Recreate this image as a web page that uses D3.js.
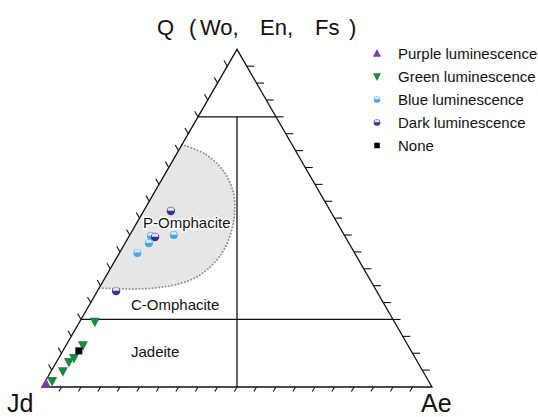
<!DOCTYPE html>
<html><head><meta charset="utf-8">
<script src="https://cdn.jsdelivr.net/npm/d3@7/dist/d3.min.js"></script>
<style>body{margin:0;background:#fff;} svg{display:block;}</style>
</head><body>
<svg id="c" width="538" height="417"></svg>
<script>
// ---- data (ternary: Q %, Ae %; Jd = 100 - Q - Ae) ----
const purpleQ = [0.9];
const purpleAe = [0.6];
const greenQ = [19.3, 12.4, 8.6, 7.4, 4.7, 1.8];
const greenAe = [3.9, 4.3, 3.9, 3.2, 3.0, 1.7];
const blueQ = [45.0, 44.7, 42.6, 39.7];
const blueAe = [11.3, 5.6, 6.1, 4.6];
const darkQ = [52.1, 44.4, 28.4];
const darkAe = [7.0, 6.8, 4.8];
const noneQ = [10.7];
const noneAe = [4.1];
// P-Omphacite field outline
const fieldQ = [71.8, 68.9, 64.0, 58.0, 52.0, 46.5, 41.0, 36.8, 33.0, 30.6, 29.4, 29.0, 29.3];
const fieldAe = [0, 7.5, 14.5, 20.0, 23.4, 25.4, 26.3, 25.8, 23.8, 20.0, 14.8, 8.0, 0];
const fieldLines = [20, 80]; // Q boundaries
const ticks = d3.range(5, 100, 5);
const titleParts = ["Q", "(", "Wo,", "En,", "Fs", ")"];
const legendLabels = ["Purple luminescence", "Green luminescence", "Blue luminescence", "Dark luminescence", "None"];
const fieldLabels = ["P-Omphacite", "C-Omphacite", "Jadeite"];

const svg = d3.select("#c");
const x = d3.scaleLinear().domain([0, 100]).range([42, 432]);
const y = d3.scaleLinear().domain([0, 100]).range([387, 49.3]);
const px = (Q, Ae) => x(Ae + Q / 2);
const py = (Q) => y(Q);

// gray field
const fieldPts = fieldQ.map((q, i) => [px(q, fieldAe[i]), py(q)]);
const curve = d3.line().curve(d3.curveCatmullRom.alpha(0.5));
svg.append("path")
  .attr("d", curve(fieldPts) + "Z")
  .attr("fill", "#e6e6e6").attr("stroke", "none");
svg.append("path")
  .attr("d", curve(fieldPts))
  .attr("fill", "none").attr("stroke", "#8f8f8f").attr("stroke-width", 1.9)
  .attr("stroke-dasharray", "0.1 3.2").attr("stroke-linecap", "round");

const lineW = 1.3;
// triangle
const tri = [[px(0, 0), py(0)], [px(100, 0), py(100)], [px(0, 100), py(0)]];
svg.append("path").attr("d", d3.line()(tri) + "Z")
  .attr("fill", "none").attr("stroke", "#111").attr("stroke-width", lineW).attr("stroke-linejoin", "miter");

// field boundaries
fieldLines.forEach(q => {
  svg.append("line")
    .attr("x1", px(q, 0)).attr("y1", py(q))
    .attr("x2", px(q, 100 - q)).attr("y2", py(q))
    .attr("stroke", "#111").attr("stroke-width", lineW);
});
svg.append("line")
  .attr("x1", x(50)).attr("y1", py(80)).attr("x2", x(50)).attr("y2", py(0))
  .attr("stroke", "#111").attr("stroke-width", lineW);

// ticks
const tl = 6.5;
const tg = svg.append("g").attr("stroke", "#111").attr("stroke-width", 1.1);
ticks.forEach(t => {
  let bx = px(0, t), by = py(0);
  tg.append("line").attr("x1", bx).attr("y1", by).attr("x2", bx - tl * 0.5 * 0.8).attr("y2", by + tl * 0.866 * 0.8);
  let lx = px(t, 0), ly = py(t);
  tg.append("line").attr("x1", lx).attr("y1", ly).attr("x2", lx - tl * 0.5).attr("y2", ly - tl * 0.866);
  let rx = px(t, 100 - t), ry = py(t);
  tg.append("line").attr("x1", rx).attr("y1", ry).attr("x2", rx + tl + 1).attr("y2", ry);
});

// marker shapes
function upTri(g, cx, cy, s, color) {
  g.append("path").attr("d", `M${cx},${cy - s * 0.55}L${cx + s / 2},${cy + s * 0.4}L${cx - s / 2},${cy + s * 0.4}Z`).attr("fill", color);
}
function downTri(g, cx, cy, s, color) {
  g.append("path").attr("d", `M${cx - s / 2},${cy - s * 0.4}L${cx + s / 2},${cy - s * 0.4}L${cx},${cy + s * 0.55}Z`).attr("fill", color);
}
function halfCirc(g, cx, cy, r, color, top) {
  g.append("circle").attr("cx", cx).attr("cy", cy).attr("r", r).attr("fill", color);
  g.append("path").attr("d", `M${cx - r * 0.8},${cy - r * 0.1}A${r * 0.8},${r * 0.8} 0 0 1 ${cx + r * 0.8},${cy - r * 0.1}Z`).attr("fill", top);
}
function square(g, cx, cy, s, color) {
  g.append("rect").attr("x", cx - s / 2).attr("y", cy - s / 2).attr("width", s).attr("height", s).attr("fill", color);
}
const cPurple = "#7b3f9e", cGreen = "#1c8a3c", cBlue = "#4aa6e2", cDark = "#35338c";
const mg = svg.append("g");
purpleQ.forEach((q, i) => upTri(mg, px(q, purpleAe[i]), py(q), 10, cPurple));
greenQ.forEach((q, i) => downTri(mg, px(q, greenAe[i]), py(q), 10, cGreen));
noneQ.forEach((q, i) => square(mg, px(q, noneAe[i]), py(q), 7, "#000"));
blueQ.forEach((q, i) => halfCirc(mg, px(q, blueAe[i]), py(q), 4, cBlue, "#d8ecfa"));
darkQ.forEach((q, i) => halfCirc(mg, px(q, darkAe[i]), py(q), 4.2, cDark, "#e4e0f0"));

// field labels
const lab = svg.append("g").attr("font-family", "Liberation Sans, Arial, sans-serif").attr("font-size", 15).attr("fill", "#111");
const labPos = [[143, 228], [131, 310], [131, 357]];
fieldLabels.forEach((t, i) => {
  lab.append("text").attr("x", labPos[i][0]).attr("y", labPos[i][1]).text(t)
    .attr("stroke", i === 0 ? "#fff" : "none").attr("stroke-width", 3).attr("paint-order", "stroke");
});

// title (full-width style spacing)
const titleX = [157, 189, 200, 260, 315, 349];
const tt = svg.append("text").attr("y", 35).attr("font-family", "Liberation Sans, Arial, sans-serif").attr("font-size", 22).attr("fill", "#111");
titleParts.forEach((p, i) => tt.append("tspan").attr("x", titleX[i]).text(p));

// vertex labels
svg.append("text").attr("x", 7).attr("y", 412).attr("font-family", "Liberation Sans, Arial, sans-serif").attr("font-size", 25).attr("fill", "#111").text("Jd");
svg.append("text").attr("x", 421).attr("y", 412).attr("font-family", "Liberation Sans, Arial, sans-serif").attr("font-size", 25).attr("fill", "#111").text("Ae");

// legend
const lg = svg.append("g");
const ly0 = 53.5, ldy = 23;
const legendDraw = [
  (g, cx, cy) => upTri(g, cx, cy, 8, cPurple),
  (g, cx, cy) => downTri(g, cx, cy, 8, cGreen),
  (g, cx, cy) => halfCirc(g, cx, cy, 3.3, cBlue, "#d8ecfa"),
  (g, cx, cy) => halfCirc(g, cx, cy, 3.3, cDark, "#e4e0f0"),
  (g, cx, cy) => square(g, cx, cy, 5.5, "#000")
];
legendLabels.forEach((t, i) => {
  const cy = ly0 + i * ldy;
  legendDraw[i](lg, 377, cy);
  lg.append("text").attr("x", 398).attr("y", cy).attr("dy", "0.36em")
    .attr("font-family", "Liberation Sans, Arial, sans-serif").attr("font-size", 15).attr("fill", "#111").text(t);
});
</script>
</body></html>
